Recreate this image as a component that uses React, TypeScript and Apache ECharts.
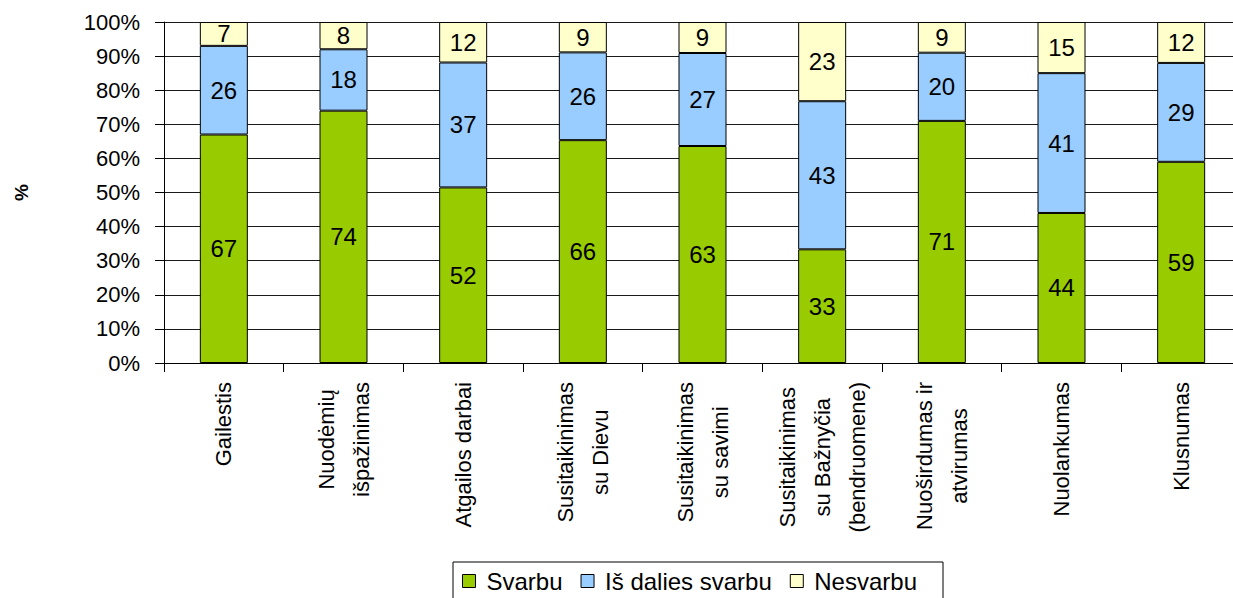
import React, { useEffect, useRef } from "react";
import * as echarts from "echarts";

const categories = [
  "Gailestis",
  "Nuodėmių\nišpažinimas",
  "Atgailos darbai",
  "Susitaikinimas\nsu Dievu",
  "Susitaikinimas\nsu savimi",
  "Susitaikinimas\nsu Bažnyčia\n(bendruomene)",
  "Nuoširdumas ir\natvirumas",
  "Nuolankumas",
  "Klusnumas",
];
const svarbu = [67, 74, 52, 66, 63, 33, 71, 44, 59];
const isDalies = [26, 18, 37, 26, 27, 43, 20, 41, 29];
const nesvarbu = [7, 8, 12, 9, 9, 23, 9, 15, 12];
const seriesNames = ["Svarbu", "Iš dalies svarbu", "Nesvarbu"];
const seriesColors = ["#99CC00", "#99CCFF", "#FFFFCC"];
const yTicks = [0, 100, 10];

const FONT = "'Liberation Sans', Arial, sans-serif";
const CAT_FONT_SIZE = 22;
const CAT_LINE_HEIGHT = 35;
const CAT_MARGIN = 19;

function measure(text: string): number {
  const ctx = document.createElement("canvas").getContext("2d");
  if (!ctx) return text.length * CAT_FONT_SIZE * 0.5;
  ctx.font = `${CAT_FONT_SIZE}px ${FONT}`;
  return ctx.measureText(text).width;
}

export default function App() {
  const ref = useRef<HTMLDivElement>(null);
  useEffect(() => {
    if (!ref.current) return;
    const chart = echarts.init(ref.current, null, { renderer: "svg" });
    const raw = [svarbu, isDalies, nesvarbu];
    const totals = categories.map((_, i) => raw.reduce((s, arr) => s + arr[i], 0));
    const series: any[] = raw.map((arr, k) => ({
      name: seriesNames[k],
      type: "bar",
      stack: "total",
      barWidth: 48,
      data: arr.map((v, i) => (v / totals[i]) * 100),
      itemStyle: { color: seriesColors[k], borderColor: "#000", borderWidth: 1 },
      label: {
        show: true,
        position: "inside",
        color: "#000",
        fontFamily: FONT,
        fontSize: 24,
        formatter: (p: any) => String(arr[p.dataIndex]),
      },
    }));
    const catWidths = categories.map((c) => Math.max(...c.split("\n").map(measure)));
    // category labels: rotated, lines centred on each other, block starting just below the axis
    series.push({
      type: "custom",
      name: "categoryLabels",
      silent: true,
      clip: false,
      z: 20,
      data: categories.map((_, i) => [i, 0]),
      renderItem: (params: any, api: any) => {
        const i = api.value(0);
        const pt = api.coord([i, 0]);
        return {
          type: "text",
          x: pt[0],
          y: pt[1] + CAT_MARGIN + catWidths[i] / 2,
          rotation: Math.PI / 2,
          style: {
            text: categories[i],
            align: "center",
            verticalAlign: "middle",
            fontFamily: FONT,
            fontSize: CAT_FONT_SIZE,
            lineHeight: CAT_LINE_HEIGHT,
            fill: "#000",
          },
        };
      },
    });
    chart.setOption({
      animation: false,
      textStyle: { fontFamily: FONT },
      grid: { left: 164, top: 22, bottom: 235, right: 0, containLabel: false, outerBoundsMode: "none" },
      legend: {
        left: 453,
        top: 562,
        icon: "rect",
        itemWidth: 13,
        itemHeight: 13,
        itemGap: 18,
        padding: [7, 26, 14, 9],
        borderColor: "#000",
        borderWidth: 1,
        borderRadius: 0,
        itemStyle: { borderColor: "#000", borderWidth: 1 },
        textStyle: { fontFamily: FONT, fontSize: 24, color: "#000", padding: [0, 0, 0, 6] },
        data: seriesNames,
      },
      xAxis: {
        type: "category",
        data: categories,
        axisLine: { show: true, lineStyle: { color: "#000", width: 1 } },
        axisTick: { show: true, interval: 0, length: 9, lineStyle: { color: "#000" } },
        axisLabel: { show: false },
      },
      yAxis: {
        type: "value",
        min: yTicks[0],
        max: yTicks[1],
        interval: yTicks[2],
        name: "%",
        nameLocation: "middle",
        nameGap: 133,
        nameTextStyle: { fontFamily: FONT, fontSize: 19, fontWeight: "bold", color: "#000" },
        axisLine: { show: true, lineStyle: { color: "#000", width: 1 } },
        axisTick: { show: true, length: 9, lineStyle: { color: "#000" } },
        axisLabel: {
          formatter: "{value}%",
          fontFamily: FONT,
          fontSize: 22,
          color: "#000",
          margin: 24,
        },
        splitLine: { show: true, lineStyle: { color: "#1a1a1a", width: 1 } },
      },
      series,
    });
    return () => chart.dispose();
  }, []);
  return (
    <div
      ref={ref}
      style={{ position: "fixed", left: 0, top: 0, width: 1241, height: 598, background: "#fff" }}
    />
  );
}
